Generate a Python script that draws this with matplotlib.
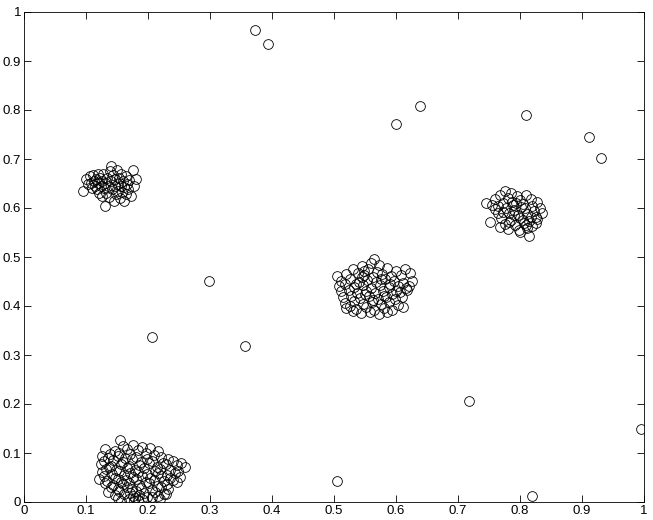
import matplotlib
matplotlib.use('Agg')
import matplotlib.pyplot as plt
import numpy as np

#-----------------------------------------------------------
# points, per cluster
clu_a=[(0.095,0.635),(0.100,0.660),(0.104,0.648),(0.106,0.665),(0.108,0.652),(0.110,0.641),(0.112,0.668),
	(0.113,0.655),(0.115,0.645),(0.116,0.660),(0.118,0.638),(0.119,0.670),(0.120,0.652),(0.121,0.630),
	(0.122,0.662),(0.124,0.644),(0.125,0.655),(0.126,0.625),(0.128,0.670),(0.129,0.640),(0.130,0.605),
	(0.131,0.652),(0.133,0.630),(0.134,0.662),(0.135,0.645),(0.137,0.622),(0.138,0.675),(0.140,0.685),
	(0.141,0.655),(0.142,0.638),(0.143,0.668),(0.145,0.615),(0.146,0.645),(0.147,0.660),(0.148,0.628),
	(0.150,0.678),(0.151,0.650),(0.152,0.635),(0.153,0.662),(0.155,0.620),(0.156,0.645),(0.157,0.670),
	(0.158,0.632),(0.160,0.655),(0.161,0.615),(0.162,0.642),(0.164,0.665),(0.165,0.628),(0.166,0.650),
	(0.168,0.638),(0.170,0.658),(0.172,0.625),(0.175,0.677),(0.177,0.645),(0.180,0.660)]

clu_b=[(0.155,0.126),(0.160,0.114),(0.176,0.117),(0.191,0.112),
	(0.131,0.108),(0.146,0.104),(0.166,0.109),(0.184,0.106),(0.204,0.110),(0.216,0.104),
	(0.139,0.098),(0.154,0.101),(0.171,0.097),(0.196,0.099),(0.209,0.095),
	(0.126,0.093),(0.135,0.089),(0.151,0.094),(0.163,0.090),(0.181,0.092),(0.199,0.088),(0.221,0.091),(0.232,0.087),
	(0.129,0.083),(0.144,0.086),(0.159,0.082),(0.174,0.087),(0.189,0.081),(0.206,0.084),(0.224,0.080),(0.241,0.084),
	(0.124,0.077),(0.141,0.074),(0.156,0.078),(0.169,0.073),(0.186,0.076),(0.201,0.079),(0.214,0.072),(0.229,0.077),(0.246,0.075),(0.254,0.079),
	(0.132,0.068),(0.137,0.071),(0.149,0.066),(0.166,0.070),(0.179,0.065),(0.194,0.069),(0.211,0.064),(0.219,0.068),(0.236,0.066),(0.249,0.063),(0.259,0.071),
	(0.126,0.061),(0.142,0.058),(0.154,0.063),(0.171,0.059),(0.184,0.062),(0.198,0.057),(0.216,0.060),(0.231,0.056),(0.244,0.059),
	(0.129,0.053),(0.146,0.050),(0.161,0.055),(0.176,0.051),(0.191,0.054),(0.204,0.049),(0.221,0.053),(0.236,0.048),(0.251,0.052),
	(0.121,0.046),(0.134,0.043),(0.151,0.047),(0.164,0.044),(0.181,0.046),(0.196,0.041),(0.209,0.045),(0.226,0.042),(0.241,0.045),
	(0.131,0.038),(0.144,0.035),(0.156,0.040),(0.159,0.036),(0.169,0.039),(0.186,0.034),(0.201,0.038),(0.214,0.033),(0.231,0.037),(0.246,0.041),
	(0.141,0.030),(0.151,0.027),(0.166,0.031),(0.174,0.026),(0.189,0.029),(0.206,0.025),(0.221,0.030),(0.233,0.027),
	(0.136,0.021),(0.154,0.023),(0.171,0.019),(0.181,0.022),(0.194,0.018),(0.211,0.021),(0.226,0.017),
	(0.146,0.014),(0.161,0.016),(0.176,0.012),(0.186,0.015),(0.199,0.011),(0.216,0.013),(0.229,0.016),
	(0.151,0.008),(0.169,0.006),(0.179,0.009),(0.191,0.007),(0.206,0.010),(0.219,0.006),
	(0.156,0.003),(0.178,0.002),(0.184,0.004)]

clu_c=[(0.565,0.496),(0.560,0.488),(0.573,0.484),(0.545,0.482),(0.585,0.478),(0.530,0.475),(0.555,0.476),(0.600,0.472),(0.615,0.475),(0.570,0.470),
	(0.505,0.462),(0.520,0.466),(0.538,0.468),(0.548,0.463),(0.563,0.460),(0.578,0.465),(0.592,0.462),(0.608,0.464),(0.622,0.468),
	(0.512,0.452),(0.525,0.456),(0.540,0.450),(0.553,0.454),(0.568,0.449),(0.582,0.455),(0.597,0.451),(0.611,0.447),(0.626,0.451),
	(0.508,0.441),(0.518,0.444),(0.532,0.439),(0.546,0.443),(0.559,0.437),(0.574,0.442),(0.588,0.438),(0.603,0.441),(0.616,0.436),(0.621,0.440),
	(0.511,0.430),(0.524,0.433),(0.537,0.427),(0.551,0.431),(0.566,0.426),(0.579,0.430),(0.594,0.425),(0.607,0.429),(0.618,0.433),
	(0.514,0.418),(0.527,0.421),(0.542,0.416),(0.556,0.420),(0.571,0.415),(0.584,0.419),(0.598,0.414),(0.610,0.418),
	(0.518,0.407),(0.532,0.410),(0.547,0.405),(0.561,0.409),(0.575,0.404),(0.589,0.408),(0.603,0.403),
	(0.520,0.396),(0.536,0.393),(0.551,0.397),(0.565,0.392),(0.580,0.396),(0.594,0.391),(0.612,0.398),
	(0.544,0.385),(0.558,0.388),(0.572,0.383),(0.585,0.387),(0.530,0.389),
	(0.548,0.472),(0.575,0.455),(0.535,0.445),(0.563,0.412),(0.590,0.445),(0.550,0.425),(0.525,0.400),(0.600,0.430),(0.545,0.460),(0.580,0.420)]

clu_d=[(0.775,0.634),(0.785,0.630),(0.768,0.627),(0.795,0.624),(0.810,0.626),(0.780,0.620),(0.760,0.618),(0.800,0.616),(0.818,0.618),(0.827,0.612),
	(0.745,0.611),(0.755,0.606),(0.772,0.610),(0.788,0.607),(0.805,0.609),(0.820,0.604),(0.832,0.600),
	(0.760,0.598),(0.777,0.601),(0.791,0.596),(0.808,0.599),(0.822,0.593),(0.835,0.590),(0.765,0.590),(0.782,0.589),(0.797,0.586),(0.812,0.588),(0.826,0.582),
	(0.752,0.572),(0.770,0.580),(0.786,0.576),(0.800,0.579),(0.815,0.574),(0.828,0.577),(0.775,0.568),(0.792,0.566),(0.806,0.569),(0.820,0.564),
	(0.780,0.558),(0.798,0.556),(0.812,0.559),(0.800,0.552),(0.815,0.543),(0.768,0.562),(0.787,0.612),(0.773,0.592),(0.802,0.603),(0.818,0.581),
	(0.783,0.571),(0.794,0.610),(0.764,0.605),(0.810,0.565),(0.790,0.585),(0.825,0.570),(0.805,0.575)]

outl=[(0.372,0.963),(0.393,0.934),(0.600,0.772),(0.638,0.809),(0.810,0.789),(0.912,0.745),(0.930,0.703),
	(0.298,0.451),(0.206,0.337),(0.357,0.318),(0.717,0.206),(0.505,0.043),(0.820,0.013),(0.995,0.149)]

ticks=[0,0.1,0.2,0.3,0.4,0.5,0.6,0.7,0.8,0.9,1]
tick_lbl=['0','0.1','0.2','0.3','0.4','0.5','0.6','0.7','0.8','0.9','1']

#----------------------------------------------------------
plt.rcParams['font.family']=['Liberation Sans','DejaVu Sans']
fig=plt.figure(figsize=(6.53, 5.2), dpi=100)
ax=fig.add_axes([24/653, 18/520, 620/653, 490/520])

for pts in [clu_a, clu_b, clu_c, clu_d, outl]:
	xy=np.array(pts)
	ax.plot(xy[:,0], xy[:,1], 'o', mfc='none', mec='black', ms=7, mew=0.6, ls='none')

ax.set_xlim(0, 1)
ax.set_ylim(0, 1)
ax.set_xticks(ticks)
ax.set_yticks(ticks)
ax.set_xticklabels(tick_lbl)
ax.set_yticklabels(tick_lbl)
ax.tick_params(direction='in', top=True, right=True, length=5, width=0.6, labelsize=9.5, pad=2)
for s in ax.spines.values():
	s.set_linewidth(0.6)

plt.savefig('out.png', dpi=100)
plt.close()
